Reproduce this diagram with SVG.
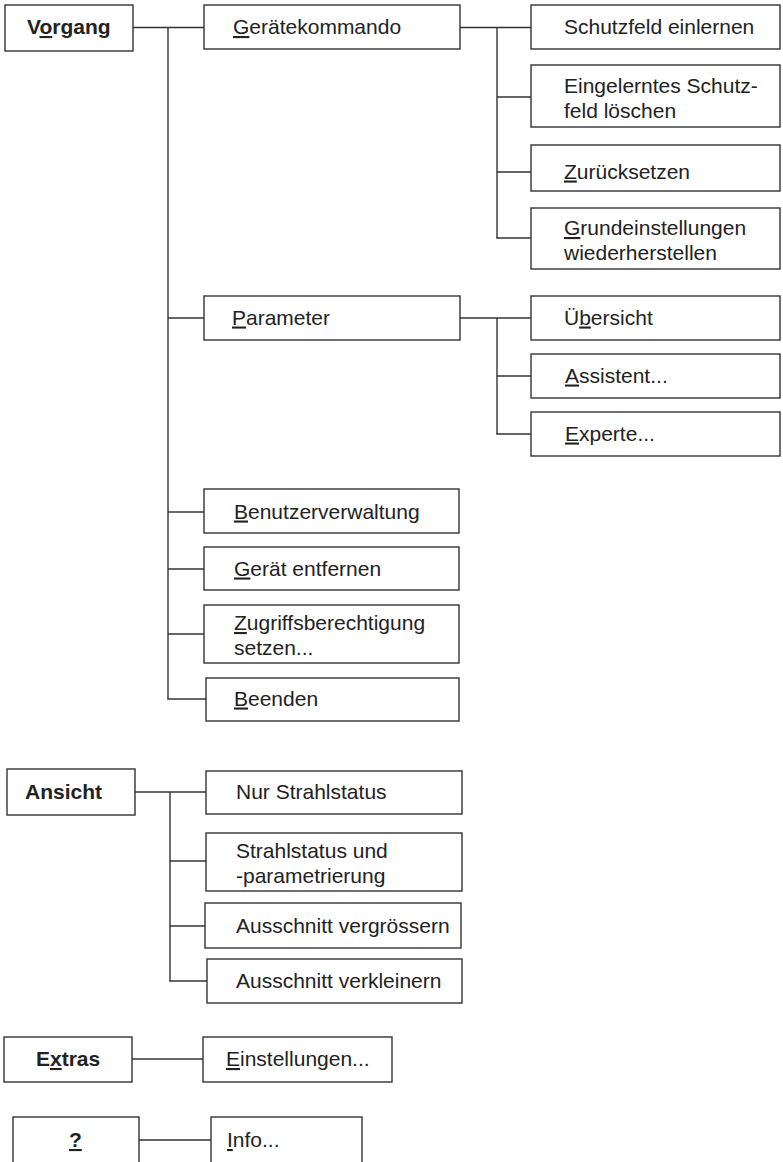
<svg xmlns="http://www.w3.org/2000/svg" width="783" height="1162" viewBox="0 0 783 1162">
<style>
rect{fill:#fff;stroke:#333;stroke-width:1.4}
.c line{stroke:#333;stroke-width:1.4}
text{font-family:"Liberation Sans",Arial,sans-serif;font-size:21px;fill:#222}
.b{font-weight:bold}
.u{text-decoration:underline}
</style>
<rect x="0" y="0" width="783" height="1162" style="fill:#fff;stroke:none"/>
<g class="c" id="connectors">
<line x1="133" y1="27.5" x2="204" y2="27.5"/>
<line x1="168" y1="27.5" x2="168" y2="699"/>
<line x1="168" y1="318" x2="204" y2="318"/>
<line x1="168" y1="512" x2="204" y2="512"/>
<line x1="168" y1="569" x2="204" y2="569"/>
<line x1="168" y1="634" x2="204" y2="634"/>
<line x1="167.3" y1="699" x2="206" y2="699"/>
<line x1="460" y1="27.5" x2="531" y2="27.5"/>
<line x1="497" y1="27.5" x2="497" y2="238"/>
<line x1="497" y1="97" x2="531" y2="97"/>
<line x1="497" y1="172" x2="531" y2="172"/>
<line x1="496.3" y1="238" x2="531" y2="238"/>
<line x1="460" y1="318" x2="531" y2="318"/>
<line x1="497" y1="318" x2="497" y2="434"/>
<line x1="497" y1="376" x2="531" y2="376"/>
<line x1="496.3" y1="434" x2="531" y2="434"/>
<line x1="135" y1="792" x2="206" y2="792"/>
<line x1="170" y1="792" x2="170" y2="981"/>
<line x1="170" y1="861" x2="206" y2="861"/>
<line x1="170" y1="926" x2="205" y2="926"/>
<line x1="169.3" y1="981" x2="207" y2="981"/>
<line x1="132" y1="1059" x2="203" y2="1059"/>
<line x1="139" y1="1140" x2="211" y2="1140"/>
</g>
<g id="vorgang"><rect x="5" y="5" width="128" height="46"/><text x="27" y="34" class="b">V<tspan class="u">o</tspan>rgang</text></g>
<g id="geraetekommando"><rect x="204" y="5" width="256" height="44"/><text x="233" y="34"><tspan class="u">G</tspan>erätekommando</text></g>
<g id="schutzfeld-einlernen"><rect x="531" y="5" width="249" height="44"/><text x="564" y="34">Schutzfeld einlernen</text></g>
<g id="schutzfeld-loeschen"><rect x="531" y="65" width="249" height="62"/><text x="564" y="93">Eingelerntes Schutz-</text><text x="564" y="118">feld löschen</text></g>
<g id="zuruecksetzen"><rect x="531" y="145" width="249" height="46"/><text x="564" y="178.5"><tspan class="u">Z</tspan>urücksetzen</text></g>
<g id="grundeinstellungen"><rect x="531" y="208" width="249" height="61"/><text x="564" y="235"><tspan class="u">G</tspan>rundeinstellungen</text><text x="564" y="260">wiederherstellen</text></g>
<g id="parameter"><rect x="204" y="296" width="256" height="44"/><text x="232" y="324.5"><tspan class="u">P</tspan>arameter</text></g>
<g id="uebersicht"><rect x="531" y="296" width="249" height="44"/><text x="564" y="324.5">Ü<tspan class="u">b</tspan>ersicht</text></g>
<g id="assistent"><rect x="531" y="354" width="249" height="44"/><text x="565" y="382.5"><tspan class="u">A</tspan>ssistent...</text></g>
<g id="experte"><rect x="531" y="412" width="249" height="44"/><text x="565" y="440.5"><tspan class="u">E</tspan>xperte...</text></g>
<g id="benutzerverwaltung"><rect x="204" y="489" width="255" height="44"/><text x="234" y="518.5"><tspan class="u">B</tspan>enutzerverwaltung</text></g>
<g id="geraet-entfernen"><rect x="204" y="547" width="255" height="43"/><text x="234" y="575.5"><tspan class="u">G</tspan>erät entfernen</text></g>
<g id="zugriffsberechtigung"><rect x="204" y="605" width="255" height="58"/><text x="234" y="630"><tspan class="u">Z</tspan>ugriffsberechtigung</text><text x="234" y="655">setzen...</text></g>
<g id="beenden"><rect x="206" y="678" width="253" height="43"/><text x="234" y="705.5"><tspan class="u">B</tspan>eenden</text></g>
<g id="ansicht"><rect x="7" y="769" width="128" height="46"/><text x="25" y="798.5" class="b">Ansicht</text></g>
<g id="nur-strahlstatus"><rect x="206" y="771" width="256" height="43"/><text x="236" y="798.5">Nur Strahlstatus</text></g>
<g id="strahlstatus-parametrierung"><rect x="206" y="833" width="256" height="58"/><text x="236" y="858">Strahlstatus und</text><text x="236" y="883">-parametrierung</text></g>
<g id="ausschnitt-vergroessern"><rect x="205" y="903" width="256" height="45"/><text x="236" y="932.5">Ausschnitt vergrössern</text></g>
<g id="ausschnitt-verkleinern"><rect x="207" y="959" width="255" height="44"/><text x="236" y="987.5">Ausschnitt verkleinern</text></g>
<g id="extras"><rect x="4" y="1037" width="128" height="45"/><text x="36" y="1066" class="b">E<tspan class="u">x</tspan>tras</text></g>
<g id="einstellungen"><rect x="203" y="1037" width="189" height="45"/><text x="226" y="1066"><tspan class="u">E</tspan>instellungen...</text></g>
<g id="hilfe"><rect x="13" y="1117" width="126" height="60"/><text x="69" y="1147" class="b"><tspan class="u">?</tspan></text></g>
<g id="info"><rect x="211" y="1117" width="151" height="60"/><text x="227" y="1147"><tspan class="u">I</tspan>nfo...</text></g>
</svg>
